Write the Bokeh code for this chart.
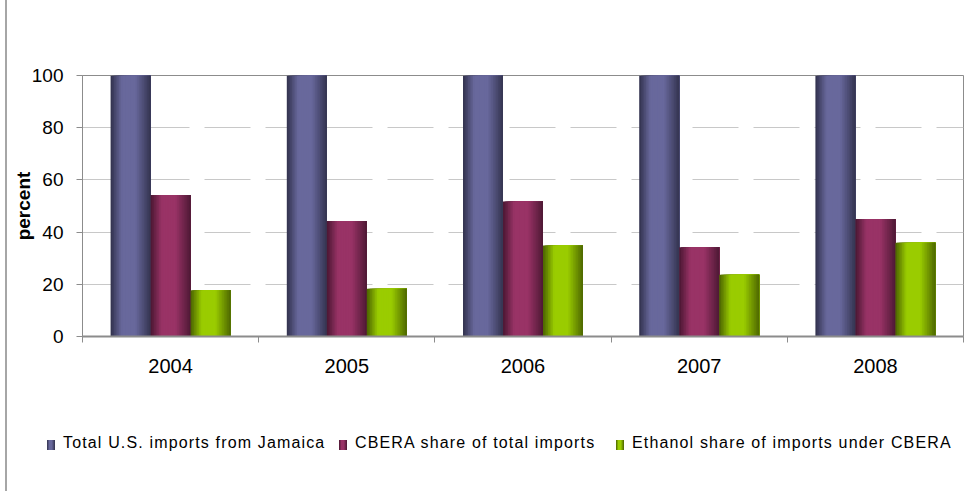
import numpy as np
from bokeh.plotting import figure
from bokeh.models import Range1d, FixedTicker, Div, ColumnDataSource
from bokeh.layouts import row, column
from bokeh.embed import file_html
from bokeh.resources import INLINE

# ---- data ----
years = ["2004", "2005", "2006", "2007", "2008"]
total_us_imports = [100, 100, 100, 100, 100]
cbera_share = [54.2, 44.3, 51.7, 34.2, 45.0]
ethanol_share = [17.7, 18.3, 34.9, 23.7, 35.9]
series_names = ["Total U.S. imports from Jamaica",
                "CBERA share of total imports",
                "Ethanol share of imports under CBERA"]
y_ticks = [0, 20, 40, 60, 80, 100]

# ---- styles ----
dark_colors = ["#31314c", "#4a1732", "#4a6200"]
light_colors = ["#68689c", "#993366", "#9acc00"]
bar_w = 0.227
offsets = [-bar_w, 0.0, bar_w]
n_strips = 24
EDGE_W = 7
W = 969 - EDGE_W

def mix(c1, c2, t):
    a = [int(c1[i:i + 2], 16) for i in (1, 3, 5)]
    b = [int(c2[i:i + 2], 16) for i in (1, 3, 5)]
    return "#%02x%02x%02x" % tuple(int(round(a[k] + (b[k] - a[k]) * t)) for k in range(3))

def profile(u):
    return float(np.interp(u, [0.0, 0.28, 0.62, 1.0], [0.0, 1.0, 1.0, 0.05]))

xc = [i + 0.5 for i in range(len(years))]

p = figure(width=W, height=420, output_backend="svg", toolbar_location=None,
           x_range=Range1d(0, len(years)), y_range=Range1d(0, 100),
           min_border_left=75, min_border_right=6, min_border_top=75,
           min_border_bottom=84)
p.margin = 0
p.background_fill_color = "white"
p.border_fill_color = "white"
p.outline_line_color = "#8c8c8c"
p.outline_line_width = 1

series_vals = [total_us_imports, cbera_share, ethanol_share]
for s, vals in enumerate(series_vals):
    sw = bar_w / n_strips
    for k in range(n_strips):
        u = (k + 0.5) / n_strips
        col = mix(dark_colors[s], light_colors[s], profile(u))
        left_off = offsets[s] - bar_w / 2 + k * sw
        right_off = offsets[s] + bar_w / 2
        src = ColumnDataSource(dict(left=[x + left_off for x in xc],
                                    right=[x + right_off for x in xc],
                                    top=vals))
        p.quad(left="left", right="right", top="top", bottom=0, source=src,
               fill_color=col, line_color=None)

# grid
p.xgrid.visible = False
p.ygrid.grid_line_color = "#c8c8c8"
p.ygrid.grid_line_width = 1
p.ygrid.grid_line_dash = "46 15"
p.ygrid.ticker = FixedTicker(ticks=y_ticks)

# y axis
p.yaxis.ticker = FixedTicker(ticks=y_ticks)
p.yaxis.axis_line_color = "#8c8c8c"
p.yaxis.major_tick_line_color = "#8c8c8c"
p.yaxis.major_tick_out = 6
p.yaxis.major_tick_in = 0
p.yaxis.minor_tick_line_color = None
p.yaxis.major_label_text_font = "Liberation Sans"
p.yaxis.major_label_text_font_size = "19px"
p.yaxis.major_label_text_color = "black"
p.yaxis.major_label_standoff = 13
p.yaxis.axis_label = "percent"
p.yaxis.axis_label_text_font = "Liberation Sans"
p.yaxis.axis_label_text_font_style = "bold"
p.yaxis.axis_label_text_font_size = "19px"
p.yaxis.axis_label_text_color = "black"
p.yaxis.axis_label_standoff = -5

# x axis
p.xaxis.ticker = FixedTicker(ticks=xc, minor_ticks=list(range(len(years) + 1)))
p.xaxis.major_label_overrides = {x: y for x, y in zip(xc, years)}
p.xaxis.axis_line_color = "#8c8c8c"
p.xaxis.axis_line_width = 2
p.xaxis.major_tick_line_color = None
p.xaxis.major_tick_out = 0
p.xaxis.major_tick_in = 0
p.xaxis.minor_tick_line_color = "#8c8c8c"
p.xaxis.minor_tick_out = 6
p.xaxis.minor_tick_in = 0
p.xaxis.major_label_text_font = "Liberation Sans"
p.xaxis.major_label_text_font_size = "20px"
p.xaxis.major_label_text_color = "black"
p.xaxis.major_label_standoff = 16

# ---- legend (HTML, below the plot) ----
legend_left = [40, 332, 609]   # swatch positions inside the legend strip (px)
items_html = []
for i, name in enumerate(series_names):
    d, l = dark_colors[i], light_colors[i]
    grad = "linear-gradient(to right, %s 0%%, %s 30%%, %s 60%%, %s 100%%)" % (d, l, l, d)
    items_html.append(
        '<div style="position:absolute;left:%dpx;top:20px;width:8px;height:10px;'
        'background:%s;"></div>' % (legend_left[i], grad)
        + '<div style="position:absolute;left:%dpx;top:15px;white-space:nowrap;'
          'line-height:16px;">%s</div>' % (legend_left[i] + 16, name))
legend_div = Div(
    text='<div style="position:relative;width:%dpx;height:71px;'
         'font-family:\'Liberation Sans\',Arial,sans-serif;font-size:16px;'
         'letter-spacing:1.15px;color:#000;">%s</div>' % (W, "".join(items_html)),
    width=W, height=71, margin=0)

edge = Div(width=EDGE_W, height=491, margin=0,
           styles={"box-sizing": "border-box", "border-right": "2px solid #a6a6a6",
                   "height": "491px", "width": "%dpx" % EDGE_W})

layout = row(edge, column(p, legend_div, spacing=0), spacing=0)
open("out.html", "w").write(file_html(layout, INLINE))
